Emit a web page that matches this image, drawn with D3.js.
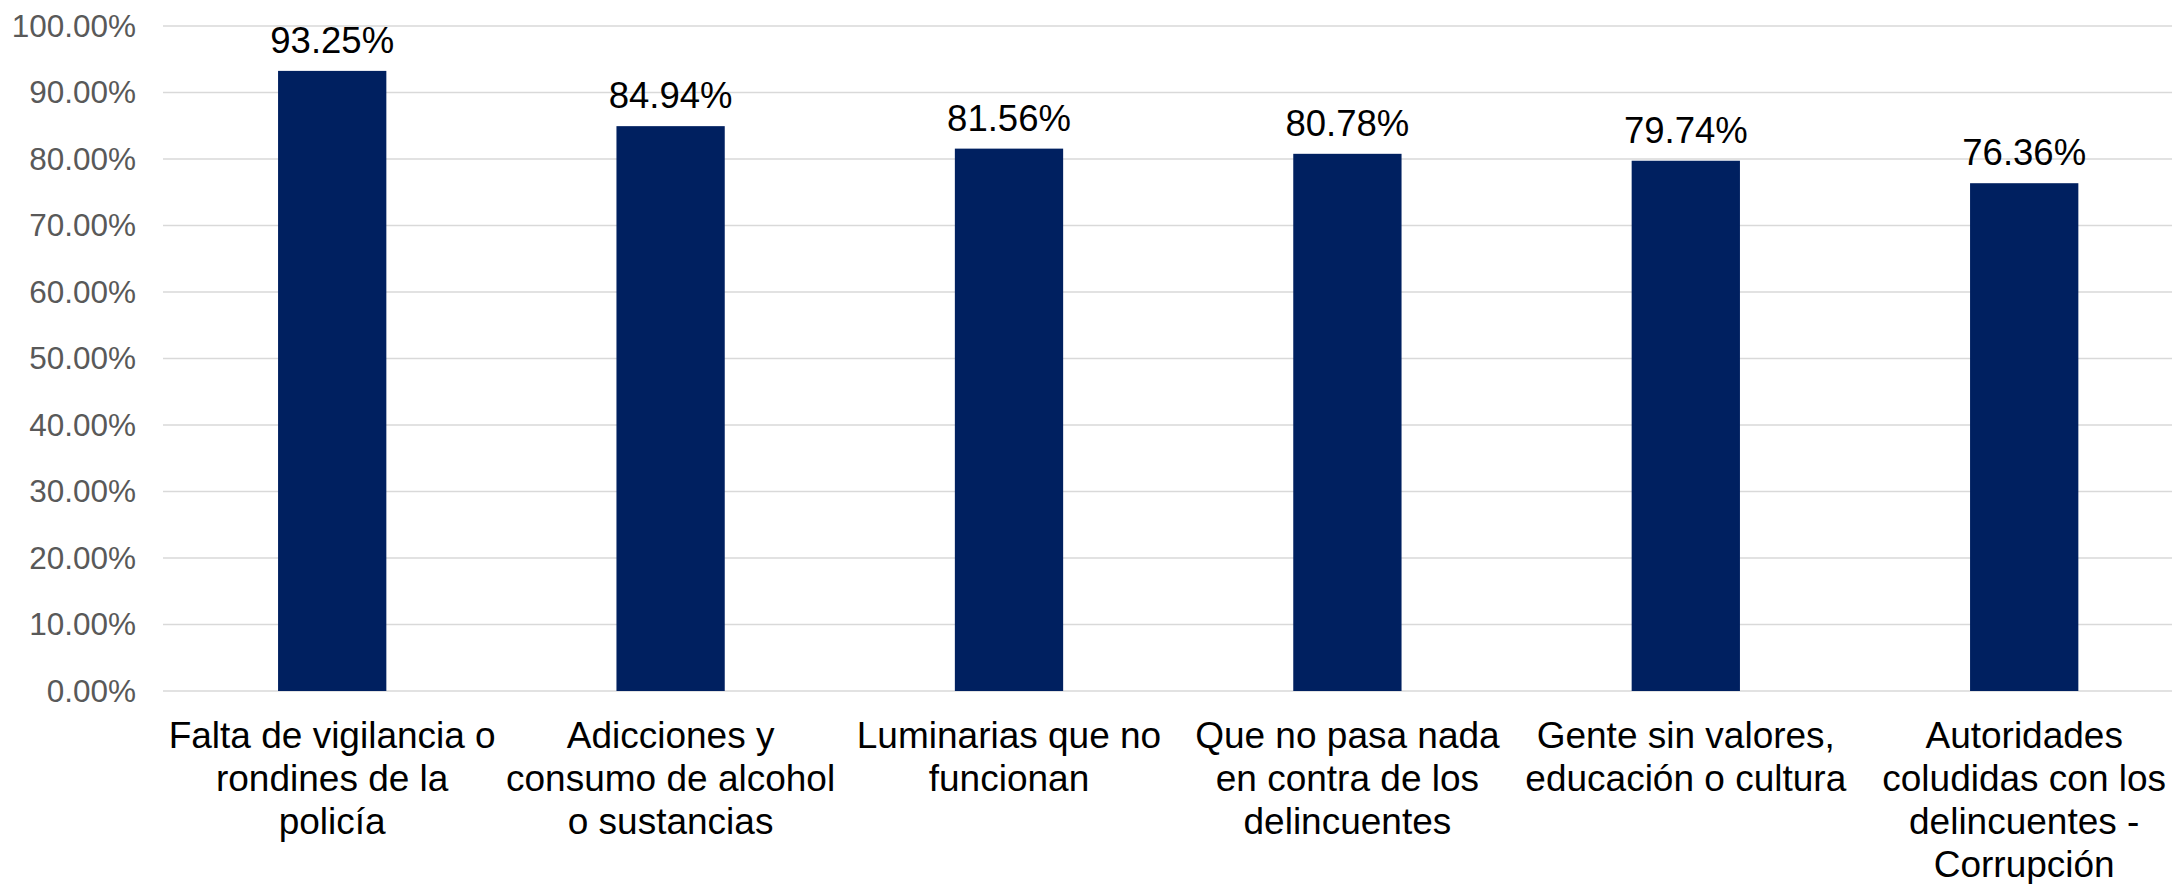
<!DOCTYPE html>
<html>
<head>
<meta charset="utf-8">
<script src="https://cdn.jsdelivr.net/npm/d3@7"></script>
<style>
  html, body { margin: 0; padding: 0; background: #ffffff; }
  svg { display: block; font-family: "Liberation Sans", Arial, sans-serif; }
</style>
</head>
<body>
<svg id="chart" width="2172" height="884"></svg>
<script>
// Causes of insecurity, share of respondents (%)
const categories = [
  ["Falta de vigilancia o", "rondines de la", "policía"],
  ["Adicciones y", "consumo de alcohol", "o sustancias"],
  ["Luminarias que no", "funcionan"],
  ["Que no pasa nada", "en contra de los", "delincuentes"],
  ["Gente sin valores,", "educación o cultura"],
  ["Autoridades", "coludidas con los", "delincuentes -", "Corrupción"]
];
const values = [93.25, 84.94, 81.56, 80.78, 79.74, 76.36];
const yTicks = [0, 10, 20, 30, 40, 50, 60, 70, 80, 90, 100];

const W = 2172, H = 884;
const plot = { left: 163, top: 26, bottom: 691, step: 338.4 };

const svg = d3.select("#chart");

const x = d3.scaleBand()
  .domain(d3.range(values.length))
  .range([plot.left, plot.left + plot.step * values.length])
  .paddingInner(0.68)
  .paddingOuter(0.34);

const y = d3.scaleLinear().domain([0, 100]).range([plot.bottom, plot.top]);

// Horizontal gridlines
svg.append("g")
  .selectAll("line")
  .data(yTicks)
  .join("line")
  .attr("x1", plot.left)
  .attr("x2", W)
  .attr("y1", d => y(d))
  .attr("y2", d => y(d))
  .attr("stroke", "#d9d9d9")
  .attr("stroke-width", 1.5);

// Y axis tick labels
const yAxis = d3.axisLeft(y)
  .tickValues(yTicks)
  .tickFormat(d => d.toFixed(2) + "%")
  .tickSize(0)
  .tickPadding(0);

svg.append("g")
  .attr("transform", "translate(136,0)")
  .call(yAxis)
  .call(g => g.select(".domain").remove())
  .call(g => g.selectAll("text")
    .attr("fill", "#595959")
    .attr("font-size", 31.5)
    .attr("font-family", "'Liberation Sans', Arial, sans-serif"));

// Bars
svg.append("g")
  .selectAll("rect")
  .data(values)
  .join("rect")
  .attr("x", (d, i) => x(i))
  .attr("width", x.bandwidth())
  .attr("y", d => y(d))
  .attr("height", d => y(0) - y(d))
  .attr("fill", "#002060");

// Value labels above bars
svg.append("g")
  .selectAll("text")
  .data(values)
  .join("text")
  .attr("x", (d, i) => x(i) + x.bandwidth() / 2)
  .attr("y", d => y(d) - 18)
  .attr("text-anchor", "middle")
  .attr("font-size", 36.5)
  .attr("fill", "#000000")
  .text(d => d.toFixed(2) + "%");

// Category labels (multi-line)
const cat = svg.append("g")
  .selectAll("text")
  .data(categories)
  .join("text")
  .attr("x", (d, i) => x(i) + x.bandwidth() / 2)
  .attr("y", 748)
  .attr("text-anchor", "middle")
  .attr("font-size", 37)
  .attr("fill", "#000000");

cat.each(function(lines, i) {
  const t = d3.select(this);
  lines.forEach((line, j) => {
    t.append("tspan")
      .attr("x", x(i) + x.bandwidth() / 2)
      .attr("dy", j === 0 ? 0 : 43)
      .text(line);
  });
});
</script>
</body>
</html>
